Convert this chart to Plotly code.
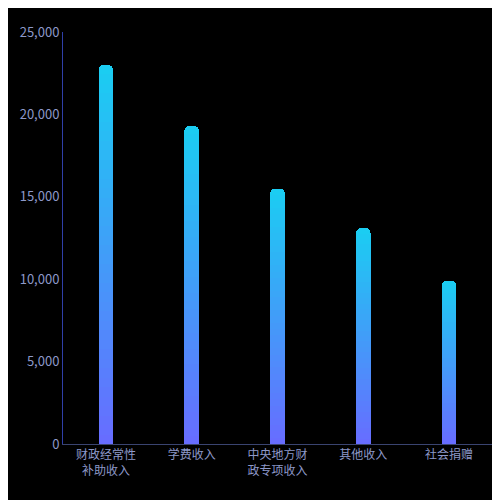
import plotly.graph_objects as go

categories = ["财政经常性<br>补助收入", "学费收入", "中央地方财<br>政专项收入", "其他收入", "社会捐赠"]
values = [23000, 19300, 15500, 13100, 9900]

N_SEG = 40
top_rgb = (26, 206, 242)
bot_rgb = (104, 108, 255)


def mix(t):
    r, g, b = [round(bot_rgb[i] + (top_rgb[i] - bot_rgb[i]) * t) for i in range(3)]
    return f"rgb({r},{g},{b})"


fig = go.Figure()
for k in range(N_SEG):
    t = (k + 0.5) / N_SEG
    fig.add_trace(go.Bar(
        x=categories,
        y=[v / N_SEG for v in values],
        marker=dict(color=mix(t), line=dict(width=0)),
        width=0.17,
        showlegend=False,
        hoverinfo="skip",
    ))

fig.update_layout(
    barmode="stack",
    barcornerradius=5,
    width=500, height=500,
    margin=dict(l=50, r=16, t=24, b=64),
    paper_bgcolor="black",
    plot_bgcolor="black",
    font=dict(family="Noto Sans CJK SC", size=12, color="#8d98c9"),
    xaxis=dict(showline=True, linecolor="#3a4470", ticks="", showgrid=False,
               tickfont=dict(size=12, color="#8d98c9")),
    yaxis=dict(range=[0, 25000], dtick=5000, tickformat=",", showline=True,
               linecolor="#2f3fa8", showgrid=False, zeroline=False, ticks="",
               tickfont=dict(size=13, color="#8d98c9")),
)

fig.write_html("out.html")
